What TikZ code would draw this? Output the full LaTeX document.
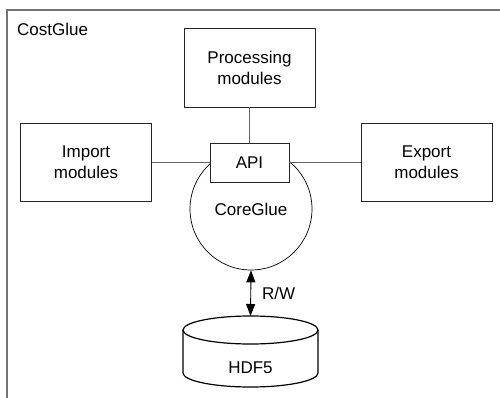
\documentclass[tikz,border=0pt]{standalone}
\usepackage{fontspec}
\setmainfont{Liberation Sans}
\usetikzlibrary{arrows.meta}
\begin{document}
\begin{tikzpicture}[x=1pt,y=-1pt,
  every node/.style={font=\fontsize{17}{21}\selectfont, align=center, inner sep=0pt},
  modbox/.style={draw=black!85, line width=0.9pt, fill=white},
  conn/.style={draw=black!60, line width=0.9pt},
  frame/.style={draw=black!55, line width=1.6pt}]
\useasboundingbox (0,0) rectangle (500,398);
% frame
\draw[frame] (500,10) -- (7,10) -- (7,398);
\node[anchor=west] (title) at (17,29.5) {CostGlue};
% core circle
\node[circle, draw=black, line width=0.7pt, minimum size=122pt] (core) at (251,209) {CoreGlue};
% boxes
\node[modbox, minimum width=131pt, minimum height=79pt] (proc) at (249.5,67.5) {Processing\\modules};
\node[modbox, minimum width=131pt, minimum height=78pt] (imp) at (86,162) {Import\\modules};
\node[modbox, minimum width=131pt, minimum height=78pt] (exp) at (426.5,162) {Export\\modules};
\node[modbox, minimum width=79pt, minimum height=39pt] (api) at (249.5,162.5) {API};
% connectors
\draw[conn] (imp.east) -- (imp.east -| api.west);
\draw[conn] (api.east |- exp.west) -- (exp.west);
\draw[conn] (proc.south) -- (api.north);
% cylinder
\coordinate (cyltop) at (250.5,316);
\draw[line width=1.2pt, fill=white] (183,330) -- (183,373) arc[start angle=180, end angle=0, x radius=67.5, y radius=14] -- (318,330);
\draw[line width=1.2pt] (250.5,330) ellipse[x radius=67.5, y radius=14];
\node (hdf) at (250.5,368) {HDF5};
% arrow
\draw[line width=0.9pt, {Triangle[length=12pt,width=9pt]}-{Triangle[length=12pt,width=9pt]}] (core.south) -- (cyltop);
\node[anchor=west] (rw) at (262,293) {R/W};
\end{tikzpicture}
\end{document}
